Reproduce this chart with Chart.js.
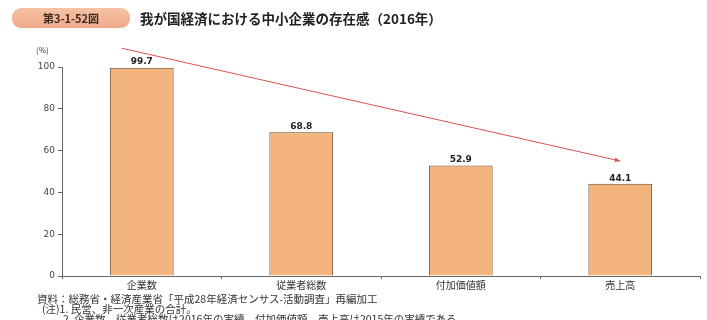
<!DOCTYPE html>
<html>
<head>
<meta charset="utf-8">
<script src="https://cdn.jsdelivr.net/npm/chart.js@4"></script>
<style>
  body { margin: 0; background: #fff; font-family: "Noto Sans CJK JP", sans-serif; }
  #wrap { position: relative; width: 707px; height: 320px; overflow: hidden; }
  #chart { position: absolute; left: 0; top: 0; }
  .badge {
    position: absolute; left: 12px; top: 8px; width: 118px; height: 20px;
    border-radius: 9px; background: linear-gradient(#f6c2a6, #f0a988);
    font-size: 11px; font-weight: bold; color: #3a2a22; text-align: center; line-height: 20px;
  }
  .title { position: absolute; left: 140px; top: 8px; font-size: 13.5px; font-weight: bold; color: #222; }
  .unit { position: absolute; left: 36px; top: 44px; font-size: 8px; color: #444; }
  .note { position: absolute; font-size: 10.5px; line-height: 14px; color: #333; white-space: nowrap; }
</style>
</head>
<body>
<div id="wrap">
  <canvas id="chart" width="707" height="320"></canvas>
  <div class="badge">第3-1-52図</div>
  <div class="title">我が国経済における中小企業の存在感（2016年）</div>
  <div class="unit">(%)</div>
  <div class="note" style="top:292px;left:37px">資料：総務省・経済産業省「平成28年経済センサス-活動調査」再編加工</div>
  <div class="note" style="top:302px;left:42px">(注)1. 民営、非一次産業の合計。</div>
  <div class="note" style="top:312px;left:63px">2. 企業数、従業者総数は2016年の実績、付加価値額、売上高は2015年の実績である。</div>
</div>
<script>
// 中小企業の割合（%）
var categories = ['企業数', '従業者総数', '付加価値額', '売上高'];
var shares = [99.7, 68.8, 52.9, 44.1];
var yTicks = [0, 20, 40, 60, 80, 100];

// 減少傾向を示す矢印（始点・終点の値）
var trendFrom = 109;
var trendTo = 55;

var valueLabels = {
  id: 'valueLabels',
  afterDatasetsDraw: function(chart) {
    var ctx = chart.ctx;
    var meta = chart.getDatasetMeta(0);
    ctx.save();
    ctx.font = 'bold 9px "DejaVu Sans", sans-serif';
    ctx.fillStyle = '#222';
    ctx.textAlign = 'center';
    ctx.textBaseline = 'bottom';
    meta.data.forEach(function(bar, i) {
      ctx.fillText(shares[i].toFixed(1), bar.x, bar.y - 1);
    });
    ctx.restore();
  }
};

var trendArrow = {
  id: 'trendArrow',
  afterDatasetsDraw: function(chart) {
    var x = chart.scales.x, y = chart.scales.y;
    var x0 = x.getPixelForValue(0) - 20, y0 = y.getPixelForValue(trendFrom);
    var x1 = x.getPixelForValue(3), y1 = y.getPixelForValue(trendTo);
    var ctx = chart.ctx;
    var a = Math.atan2(y1 - y0, x1 - x0);
    ctx.save();
    ctx.strokeStyle = '#d9534f';
    ctx.fillStyle = '#d9534f';
    ctx.lineWidth = 1;
    ctx.beginPath();
    ctx.moveTo(x0, y0);
    ctx.lineTo(x1, y1);
    ctx.stroke();
    ctx.beginPath();
    ctx.moveTo(x1, y1);
    ctx.lineTo(x1 - 6 * Math.cos(a - 0.4), y1 - 6 * Math.sin(a - 0.4));
    ctx.lineTo(x1 - 6 * Math.cos(a + 0.4), y1 - 6 * Math.sin(a + 0.4));
    ctx.closePath();
    ctx.fill();
    ctx.restore();
  }
};

new Chart(document.getElementById('chart'), {
  type: 'bar',
  data: {
    labels: categories,
    datasets: [{
      data: shares,
      backgroundColor: '#f4b47e',
      borderColor: '#6b4a32',
      borderWidth: 1,
      barPercentage: 0.8,
      categoryPercentage: 0.5
    }]
  },
  options: {
    responsive: false,
    animation: false,
    layout: { padding: { top: 67, left: 8, right: 7, bottom: 29 } },
    plugins: { legend: { display: false }, tooltip: { enabled: false } },
    scales: {
      x: {
        grid: { display: true, drawOnChartArea: false, offset: true, tickLength: 3, color: '#666' },
        border: { color: '#666' },
        ticks: { color: '#333', font: { size: 10, family: '"Noto Sans CJK JP"' }, padding: 0 }
      },
      y: {
        min: 0, max: 100,
        afterBuildTicks: function(axis) {
          axis.ticks = yTicks.map(function(v) { return { value: v }; });
        },
        afterFit: function(axis) { axis.width = 54; },
        grid: { drawOnChartArea: false, tickLength: 4, color: '#666' },
        border: { color: '#666' },
        ticks: { color: '#444', font: { size: 9, family: '"DejaVu Sans"' }, padding: 3 }
      }
    }
  },
  plugins: [valueLabels, trendArrow]
});
</script>
</body>
</html>
